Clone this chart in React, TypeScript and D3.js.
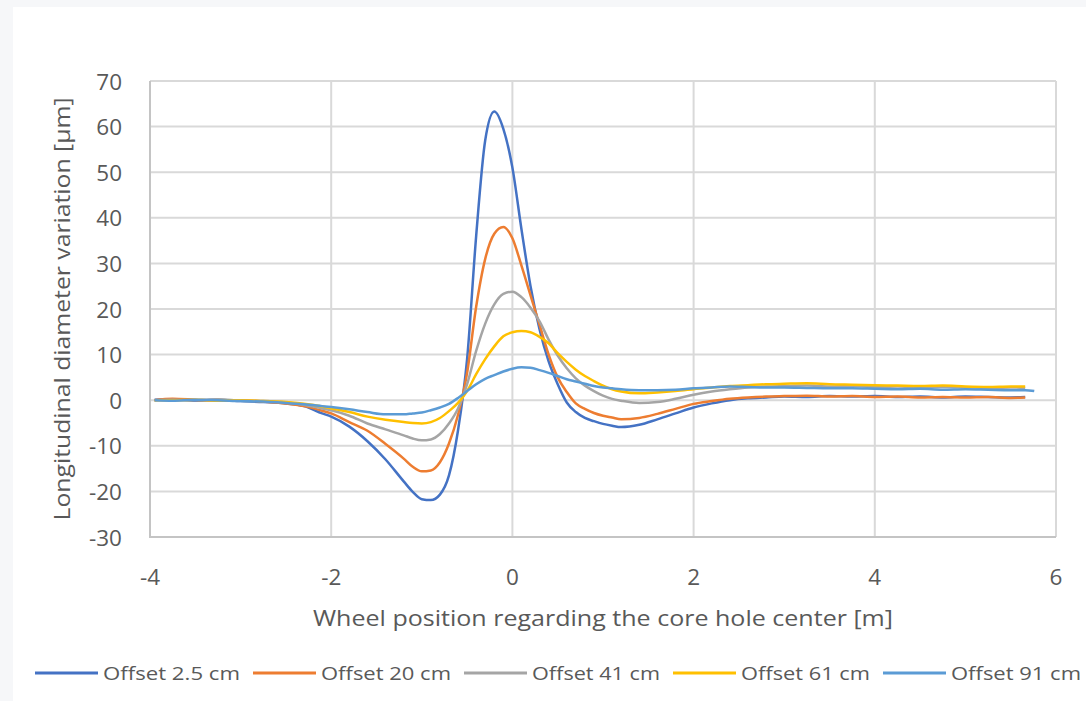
import React, { useEffect, useRef } from "react"
import * as d3 from "d3"

// wheel position [m]
const positions = [
	-3.95, -3.75, -3.5, -3.25, -3.0, -2.75, -2.5, -2.3, -2.1, -2.0, -1.8, -1.6, -1.4, -1.2, -1.1,
	-1.0, -0.9, -0.8, -0.7, -0.6, -0.5, -0.4, -0.3, -0.2, -0.1, 0, 0.1, 0.2, 0.3, 0.4, 0.5, 0.6,
	0.7, 0.8, 0.9, 1.0, 1.1, 1.2, 1.4, 1.6, 1.8, 2.0, 2.2, 2.4, 2.6, 2.8, 3.0, 3.25, 3.5, 3.75,
	4.0, 4.25, 4.5, 4.75, 5.0, 5.25, 5.5, 5.66, 5.76,
]

// longitudinal diameter variation [µm]
const offset25 = [
	0.1, 0.2, -0.1, 0.1, -0.2, -0.4, -0.7, -1.3, -2.9, -3.6, -5.8, -9.0, -13.0, -17.8, -20.1,
	-21.7, -21.9, -20.7, -16.5, -6.6, 9.0, 36.0, 57.0, 63.3, 59.5, 51.0, 37.5, 25.0, 15.5, 8.5,
	3.5, -0.5, -2.6, -3.9, -4.6, -5.2, -5.6, -5.9, -5.4, -4.2, -2.9, -1.6, -0.7, 0.0, 0.4, 0.6,
	0.8, 0.7, 0.9, 0.8, 0.9, 0.7, 0.8, 0.6, 0.8, 0.7, 0.6, 0.7, null,
]
const offset20 = [
	0.0, 0.3, 0.1, -0.1, 0.0, -0.3, -0.7, -1.3, -2.3, -2.9, -4.8, -6.7, -9.6, -12.8, -14.6,
	-15.6, -15.4, -13.6, -9.5, -3.2, 6.0, 20.5, 31.0, 36.5, 38.0, 35.5, 29.5, 23.0, 16.5, 10.0,
	5.0, 1.8, -0.7, -1.9, -2.8, -3.4, -3.8, -4.2, -3.9, -3.0, -1.9, -0.8, -0.2, 0.3, 0.6, 0.8,
	0.9, 1.0, 0.8, 0.9, 0.7, 0.8, 0.6, 0.7, 0.6, 0.7, 0.5, 0.6, null,
]
const offset41 = [
	0.0, 0.1, 0.0, 0.2, -0.1, -0.2, -0.5, -1.0, -1.8, -2.2, -3.4, -5.1, -6.4, -7.7, -8.4, -8.8,
	-8.6, -7.4, -5.1, -1.8, 3.5, 10.8, 16.8, 21.0, 23.3, 23.8, 22.6, 20.3, 17.3, 13.3, 9.8, 7.0,
	4.8, 3.2, 2.0, 1.0, 0.3, -0.1, -0.6, -0.4, 0.3, 1.2, 1.9, 2.4, 2.8, 3.0, 3.1, 3.2, 3.0, 3.1,
	2.9, 3.0, 2.8, 2.9, 2.8, 2.7, 2.8, 2.7, null,
]
const offset61 = [
	0.0, 0.0, 0.1, -0.1, 0.0, -0.2, -0.4, -0.8, -1.4, -1.8, -2.6, -3.6, -4.3, -4.8, -5.0, -5.1,
	-4.8, -3.9, -2.4, -0.6, 2.0, 5.7, 9.0, 11.8, 14.0, 14.9, 15.2, 14.9, 13.9, 12.5, 10.3, 8.4,
	6.7, 5.3, 4.2, 3.2, 2.4, 1.9, 1.5, 1.7, 2.0, 2.4, 2.8, 3.1, 3.3, 3.5, 3.6, 3.7, 3.5, 3.4,
	3.3, 3.2, 3.1, 3.2, 3.0, 2.9, 3.0, 3.0, null,
]
const offset91 = [
	0.0, -0.1, 0.1, 0.0, -0.2, -0.3, -0.6, -0.9, -1.3, -1.5, -2.0, -2.6, -3.1, -3.1, -2.9, -2.7,
	-2.2, -1.6, -0.8, 0.5, 2.0, 3.5, 4.7, 5.5, 6.3, 6.9, 7.2, 7.1, 6.6, 6.0, 5.3, 4.6, 4.1, 3.6,
	3.1, 2.8, 2.6, 2.4, 2.2, 2.2, 2.3, 2.6, 2.8, 3.0, 2.9, 2.8, 2.8, 2.7, 2.6, 2.6, 2.5, 2.4,
	2.5, 2.3, 2.4, 2.3, 2.2, 2.2, 2.0,
]

const seriesNames = ["Offset 2.5 cm", "Offset 20 cm", "Offset 41 cm", "Offset 61 cm", "Offset 91 cm"]
const seriesValues = [offset25, offset20, offset41, offset61, offset91]
const seriesColors = ["#4472C4", "#ED7D31", "#A5A5A5", "#FFC000", "#5B9BD5"]

const xTicks = [-4, -2, 0, 2, 4, 6]
const yTicks = [-30, -20, -10, 0, 10, 20, 30, 40, 50, 60, 70]

const W = 1086
const H = 701
const TEXT = "#595959"
const FONT = "'Open Sans', 'Liberation Sans', sans-serif"

const App = () => {
	const ref = useRef<SVGSVGElement>(null)

	useEffect(() => {
		const svg = d3.select(ref.current)
		svg.selectAll("*").remove()

		// page background and white chart area
		svg.append("rect").attr("width", W).attr("height", H).attr("fill", "#f6f7f9")
		svg.append("rect").attr("x", 13).attr("y", 7).attr("width", W - 13).attr("height", H - 7).attr("fill", "#fff")

		const x = d3.scaleLinear().domain([-4, 6]).range([150, 1056])
		const y = d3.scaleLinear().domain([-30, 70]).range([537, 81])

		// grid
		const grid = svg.append("g")
		grid
			.selectAll("line.h")
			.data(yTicks)
			.join("line")
			.attr("x1", x(-4))
			.attr("x2", x(6))
			.attr("y1", d => y(d))
			.attr("y2", d => y(d))
			.attr("stroke", "#d9d9d9")
			.attr("stroke-width", 2)
		grid
			.selectAll("line.v")
			.data(xTicks)
			.join("line")
			.attr("x1", d => x(d))
			.attr("x2", d => x(d))
			.attr("y1", y(-30))
			.attr("y2", y(70))
			.attr("stroke", "#d9d9d9")
			.attr("stroke-width", 2)

		// axis lines
		svg.append("line").attr("x1", x(-4)).attr("x2", x(-4)).attr("y1", y(-30) + 1).attr("y2", y(70))
			.attr("stroke", "#c4c4c4").attr("stroke-width", 2)
		svg.append("line").attr("x1", x(-4)).attr("x2", x(6)).attr("y1", y(-30)).attr("y2", y(-30))
			.attr("stroke", "#c4c4c4").attr("stroke-width", 2)

		// tick labels
		svg
			.selectAll("text.ytick")
			.data(yTicks)
			.join("text")
			.attr("x", 122)
			.attr("y", d => y(d))
			.attr("text-anchor", "end")
			.attr("dominant-baseline", "central")
			.style("font-family", FONT)
			.style("font-size", "22.5px")
			.attr("fill", TEXT)
			.text(d => d)
		svg
			.selectAll("text.xtick")
			.data(xTicks)
			.join("text")
			.attr("x", d => x(d))
			.attr("y", 576)
			.attr("text-anchor", "middle")
			.attr("dominant-baseline", "central")
			.style("font-family", FONT)
			.style("font-size", "22.5px")
			.attr("fill", TEXT)
			.text(d => d)

		// axis titles
		svg
			.append("text")
			.attr("x", 603)
			.attr("y", 618)
			.attr("text-anchor", "middle")
			.attr("dominant-baseline", "central")
			.attr("textLength", 580)
			.attr("lengthAdjust", "spacingAndGlyphs")
			.style("font-family", FONT)
			.style("font-size", "21px")
			.attr("fill", TEXT)
			.text("Wheel position regarding the core hole center [m]")
		svg
			.append("text")
			.attr("transform", "translate(62,309) rotate(-90)")
			.attr("text-anchor", "middle")
			.attr("dominant-baseline", "central")
			.attr("textLength", 423)
			.attr("lengthAdjust", "spacingAndGlyphs")
			.style("font-family", FONT)
			.style("font-size", "21px")
			.attr("fill", TEXT)
			.text("Longitudinal diameter variation [µm]")

		// series
		const line = d3
			.line<[number, number | null]>()
			.defined(d => d[1] !== null)
			.x(d => x(d[0]))
			.y(d => y(d[1] as number))
			.curve(d3.curveMonotoneX)

		svg
			.append("g")
			.selectAll("path")
			.data(seriesValues.map(vals => positions.map((p, i) => [p, vals[i]] as [number, number | null])))
			.join("path")
			.attr("d", d => line(d))
			.attr("fill", "none")
			.attr("stroke", (_, i) => seriesColors[i])
			.attr("stroke-width", 2.5)
			.attr("stroke-linejoin", "round")

		// legend
		const legendWidths = [137, 130, 128, 129, 130]
		let lx = 35
		const legend = svg.append("g")
		seriesNames.forEach((name, i) => {
			legend.append("line").attr("x1", lx).attr("x2", lx + 63).attr("y1", 673).attr("y2", 673)
				.attr("stroke", seriesColors[i]).attr("stroke-width", 3)
			legend
				.append("text")
				.attr("x", lx + 68)
				.attr("y", 673)
				.attr("dominant-baseline", "central")
				.attr("textLength", legendWidths[i])
				.attr("lengthAdjust", "spacingAndGlyphs")
				.style("font-family", FONT)
				.style("font-size", "18px")
				.attr("fill", TEXT)
				.text(name)
			lx += 68 + legendWidths[i] + 13
		})
	}, [])

	return (
		<svg
			ref={ref}
			width={W}
			height={H}
			style={{ position: "absolute", left: 0, top: 0, display: "block" }}
		></svg>
	)
}

export default App
